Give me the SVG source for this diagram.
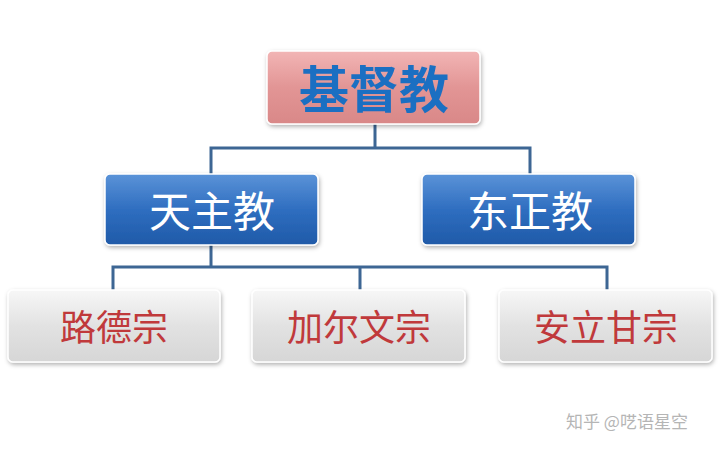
<svg xmlns="http://www.w3.org/2000/svg" width="720" height="449" viewBox="0 0 720 449">
<defs>
<linearGradient id="gTop" x1="0" y1="0" x2="0" y2="1"><stop offset="0" stop-color="#f2b5b5"/><stop offset="0.5" stop-color="#e29595"/><stop offset="1" stop-color="#d98888"/></linearGradient>
<linearGradient id="gMid" x1="0" y1="0" x2="0" y2="1"><stop offset="0" stop-color="#5b93d8"/><stop offset="0.5" stop-color="#2f6ec0"/><stop offset="1" stop-color="#1f5aa8"/></linearGradient>
<linearGradient id="gBot" x1="0" y1="0" x2="0" y2="1"><stop offset="0" stop-color="#f7f7f7"/><stop offset="0.5" stop-color="#e2e2e2"/><stop offset="1" stop-color="#d6d6d6"/></linearGradient>
<filter id="sh" x="-10%" y="-10%" width="120%" height="130%"><feDropShadow dx="1" dy="2" stdDeviation="2" flood-opacity="0.3"/></filter>
</defs>
<style>
.t{font-family:"Noto Sans CJK SC",sans-serif;text-anchor:middle;dominant-baseline:central}
.c{stroke:#3d6694;stroke-width:3;fill:none}
</style>
<rect width="720" height="449" fill="#fff"/>
<g id="connectors">
<path class="c" d="M375 124V148M211 174V148H530V174M211 245V267M113 290V267H607V290M360 267V290"/>
</g>
<g id="n-top"><rect x="267" y="51" width="213" height="73" rx="5" fill="url(#gTop)" stroke="#fff" stroke-width="1.5" filter="url(#sh)"/><text class="t" x="374" y="86" font-size="50" font-weight="bold" fill="#1b6fc2">基督教</text></g>
<g id="n-cat"><rect x="105" y="174" width="213" height="71" rx="5" fill="url(#gMid)" stroke="#fff" stroke-width="1.5" filter="url(#sh)"/><text class="t" x="212" y="208" font-size="42" fill="#fff">天主教</text></g>
<g id="n-ort"><rect x="422" y="174" width="213" height="71" rx="5" fill="url(#gMid)" stroke="#fff" stroke-width="1.5" filter="url(#sh)"/><text class="t" x="530" y="208" font-size="42" fill="#fff">东正教</text></g>
<g id="n-lu"><rect x="8" y="290" width="212" height="72" rx="5" fill="url(#gBot)" stroke="#fff" stroke-width="1.5" filter="url(#sh)"/><text class="t" x="114" y="325" font-size="36" fill="#c0393b">路德宗</text></g>
<g id="n-ca"><rect x="252" y="290" width="213" height="72" rx="5" fill="url(#gBot)" stroke="#fff" stroke-width="1.5" filter="url(#sh)"/><text class="t" x="359" y="325" font-size="36" fill="#c0393b">加尔文宗</text></g>
<g id="n-an"><rect x="499" y="290" width="213" height="72" rx="5" fill="url(#gBot)" stroke="#fff" stroke-width="1.5" filter="url(#sh)"/><text class="t" x="606" y="325" font-size="36" fill="#c0393b">安立甘宗</text></g>
<text x="627" y="420" font-family="'Noto Sans CJK SC',sans-serif" font-size="17" fill="#b5b5b5" text-anchor="middle" dominant-baseline="central">知乎 @呓语星空</text>
</svg>
